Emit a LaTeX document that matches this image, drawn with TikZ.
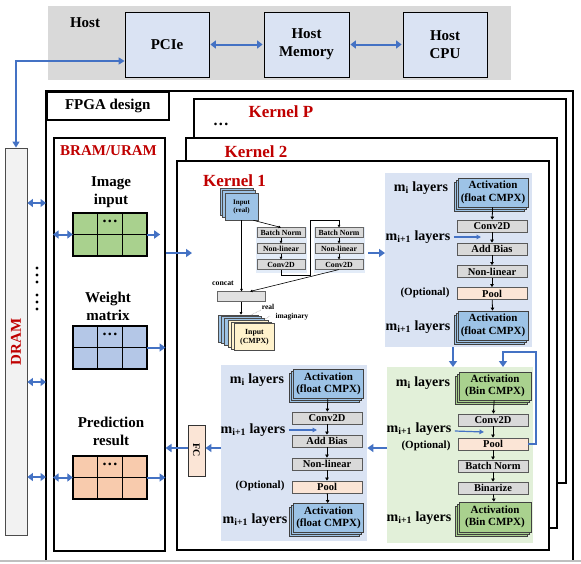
\documentclass[tikz,border=0pt]{standalone}
\usepackage{fontspec}
\setmainfont{Liberation Serif}
\usetikzlibrary{arrows.meta,shadows,calc}
\definecolor{hostgray}{HTML}{D9D9D9}
\definecolor{lblue}{HTML}{DAE3F3}
\definecolor{subbg}{HTML}{E3ECF8}
\definecolor{ablue}{HTML}{4472C4}
\definecolor{kred}{HTML}{C00000}
\definecolor{actblue}{HTML}{9DC3E6}
\definecolor{actgreen}{HTML}{A9D18E}
\definecolor{bggreen}{HTML}{E2F0D9}
\definecolor{pinkop}{HTML}{FBE5D6}
\definecolor{opgray}{HTML}{D9D9D9}
\definecolor{gridgreen}{HTML}{A9D18E}
\definecolor{gridblue}{HTML}{B4C7E7}
\definecolor{gridorange}{HTML}{F8CBAD}
\definecolor{dramgray}{HTML}{F2F2F2}
\definecolor{cmpxyellow}{HTML}{FFF2CC}
\newcommand{\bramgrid}[3]{%
 \node[gridbox, fill=#3] (#1) at (110,#2) {};
 \draw[line width=0.9pt] ($(#1.north west)!1/3!(#1.north east)$) -- ($(#1.south west)!1/3!(#1.south east)$)
   ($(#1.north west)!2/3!(#1.north east)$) -- ($(#1.south west)!2/3!(#1.south east)$)
   (#1.west) -- (#1.east);
 \draw[line width=2pt] (#1.north west) rectangle (#1.south east);
 \node[font=\fontsize{16}{16}\selectfont\bfseries] (#1dots) at ($(#1.north)!0.5!(#1.center)+(0,-2)$) {.\kern1.5pt.\kern1.5pt.};
}
\begin{document}
\begin{tikzpicture}[x=1pt,y=-1pt,
 big/.style={font=\fontsize{15}{18}\selectfont\bfseries},
 hbox/.style={draw=black, line width=0.8pt, fill=lblue, align=center, inner sep=0, font=\fontsize{15}{18}\selectfont\bfseries},
 barr/.style={ablue, line width=2pt, -{Triangle[length=6pt,width=8pt]}},
 dbarr/.style={ablue, line width=2pt, {Triangle[length=5.5pt,width=8pt]}-{Triangle[length=5.5pt,width=8pt]}},
 tbarr/.style={ablue, line width=1.2pt, -{Triangle[length=4.5pt,width=4.5pt]}},
 kbox/.style={draw=black, line width=1.5pt, fill=white},
 ktitle/.style={text=kred, anchor=base, font=\fontsize{17}{20}\selectfont\bfseries},
 gridbox/.style={minimum width=74pt, minimum height=43pt, inner sep=0},
 op/.style={draw=black!65, line width=0.8pt, fill=opgray, minimum width=70pt, minimum height=12pt, inner sep=0, font=\fontsize{10.5}{11}\selectfont\bfseries},
 act/.style={draw=black!75, line width=0.8pt, fill=actblue, minimum width=70pt, minimum height=29pt, inner sep=0, align=center, font=\fontsize{11}{12.5}\selectfont\bfseries, double copy shadow={shadow xshift=-2pt, shadow yshift=-2pt}},
 lbl/.style={font=\fontsize{14}{16}\selectfont\bfseries},
 opt/.style={font=\fontsize{11}{12}\selectfont\bfseries},
 karr/.style={black, line width=0.8pt, -{Triangle[length=3pt,width=3.5pt]}},
 sop/.style={draw=black!60, line width=0.6pt, fill=opgray, minimum width=48pt, minimum height=9.5pt, inner sep=0, font=\fontsize{7.8}{8}\selectfont\bfseries},
 sarr/.style={black, line width=0.6pt, -{Triangle[length=2.5pt,width=2.5pt]}},
 stk/.style={draw=black!70, line width=0.6pt, minimum width=40pt, minimum height=27pt, inner sep=0, align=center, font=\fontsize{7.8}{9}\selectfont\bfseries}
]
\useasboundingbox (0,0) rectangle (581,563);
% ---------------- Host
\fill[hostgray] (48,6) rectangle (511,80);
\node[big] (hostlbl) at (85,23) {Host};
\node[hbox, minimum width=84pt, minimum height=65pt] (pcie) at (167,44.5) {PCIe};
\node[hbox, minimum width=85pt, minimum height=65pt] (hmem) at (306.5,44.5) {Host\\Memory};
\node[hbox, minimum width=84pt, minimum height=65pt] (hcpu) at (445,44.5) {Host\\CPU};
\draw[dbarr, shorten <=1pt, shorten >=1pt] (pcie) -- (hmem);
\draw[dbarr, shorten <=1pt, shorten >=1pt] (hmem) -- (hcpu);
% ---------------- DRAM
\node[draw=black!70, line width=0.8pt, fill=dramgray, minimum width=22pt, minimum height=387pt, inner sep=0] (dram) at (16,341.5) {};
\node[rotate=90, text=kred, big] (dramlbl) at (16,342) {DRAM};
\draw[ablue, line width=1.3pt, {Triangle[length=6pt,width=7pt]}-{Triangle[length=6pt,width=7pt]}] ($(pcie.west)+(0,16.5)$) -| (dram.north);
\foreach \yy [count=\k] in {268,275,282,295,302,309} \fill (37,\yy) circle (1.6pt);
% ---------------- FPGA outer
\coordinate (fpgaL) at (46,91);
\draw[line width=1.5pt] (46,562) -- (fpgaL) -- (573,91) -- (573,562);
\node[draw, line width=1.5pt, minimum width=122pt, minimum height=28pt, inner sep=0, anchor=north west, big] (fpgalbl) at (fpgaL) {FPGA design};
\draw[gray!50, line width=1.5pt] (0,561) -- (581,561);
% ---------------- Kernels
\draw[kbox] (194,99) rectangle (566,483);
\node[ktitle] (kp) at (281,117) {Kernel P};
\node[font=\fontsize{16}{16}\selectfont\bfseries] (kpdots) at (221,124) {.\kern1.5pt.\kern1.5pt.};
\draw[kbox] (186,138) rectangle (557,528);
\node[ktitle] (k2) at (256,157) {Kernel 2};
\draw[kbox] (177,161) rectangle (549,550);
\node[ktitle] (k1) at (234.5,186) {Kernel 1};
% ---------------- BRAM
\node[draw, line width=1.5pt, fill=white, minimum width=111pt, minimum height=413pt, inner sep=0, anchor=north west] (bram) at (53,137) {};
\node[text=kred, big] (bramlbl) at (108.5,151) {BRAM/URAM};
\node[big, align=center] (imglbl) at (111,192) {Image\\input};
\node[big, align=center] (wlbl) at (108,306) {Weight\\matrix};
\node[big, align=center] (plbl) at (111,431) {Prediction\\result};
\bramgrid{imggrid}{234.5}{gridgreen}
\bramgrid{wgrid}{347.5}{gridblue}
\bramgrid{pgrid}{477.5}{gridorange}
\draw[dbarr] (bram.west |- imggrid.west) -- (imggrid.west);
\draw[barr] (imggrid.east) -- ++(13,0);
\draw[barr] (wgrid.east) -- (bram.east |- wgrid.east);
\draw[dbarr] (bram.west |- pgrid.west) -- (pgrid.west);
\draw[barr] (pgrid.east) -- (bram.east |- pgrid.east);
\coordinate (d1) at (0,203);
\coordinate (d2) at (0,382);
\coordinate (d3) at (0,477);
\draw[dbarr] (dram.east |- d1) -- (fpgaL |- d1);
\draw[dbarr] (dram.east |- d2) -- (fpgaL |- d2);
\draw[dbarr] (dram.east |- d3) -- (fpgaL |- d3);
\coordinate (k1in) at (192,253);
\draw[barr] (bram.east |- k1in) -- (k1in);
% ---------------- Kernel 1 sub-diagram
\node[stk, fill=actblue, minimum width=33pt, double copy shadow={shadow xshift=-2.5pt, shadow yshift=2.5pt}, font=\fontsize{7}{8}\selectfont\bfseries] (inreal) at (241.5,206.5) {Input\\(real)};
\node[fill=subbg, minimum width=51pt, minimum height=46pt, inner sep=0] (b1bg) at (281.5,249.5) {};
\node[fill=subbg, minimum width=51pt, minimum height=46pt, inner sep=0] (b2bg) at (339.5,249.5) {};
\node[sop] (bn1) at (281,232.5) {Batch Norm};
\node[sop] (nl1s) at (281,248.5) {Non-linear};
\node[sop] (cv1s) at (281,264.5) {Conv2D};
\node[sop] (bn2) at (339,232.5) {Batch Norm};
\node[sop] (nl2s) at (339,248.5) {Non-linear};
\node[sop] (cv2s) at (339,264.5) {Conv2D};
\draw[sarr] (bn1) -- (nl1s);
\draw[sarr] (nl1s) -- (cv1s);
\draw[sarr] (bn2) -- (nl2s);
\draw[sarr] (nl2s) -- (cv2s);
\draw[sarr] ($(inreal.south east)+(-5,0)$) -- (bn1.north);
\coordinate (lk1) at (310,275);
\coordinate (lk2) at (310,220);
\draw[sarr] (cv1s.south) |- (lk1) -- (lk2) -| (bn2.north);
\node[font=\fontsize{7.8}{8}\selectfont\bfseries] (concatlbl) at (223,283) {concat};
\node[sop, fill=opgray!80] (concat) at (241,296.5) {};
\draw[sarr] (inreal.south) -- (inreal.south |- concat.north);
\draw[sarr] (cv2s.south) -- ($(concat.north)+(9,0)$);
\foreach \i in {0,1,2} \node[stk, fill=actblue] (cmpx\i) at (238+3.3*\i,328.5+1.7*\i) {};
\foreach \i in {3,4} \node[stk, fill=cmpxyellow] (cmpx\i) at (238+3.3*\i,328.5+1.7*\i) {};
\node[stk, fill=cmpxyellow] (incmpx) at (254.5,337) {Input\\(CMPX)};
\draw[sarr] (concat.south) -- (concat.south |- cmpx0.north);
\node[font=\fontsize{7.5}{7.5}\selectfont\bfseries] (reallbl) at (268,307) {real};
\node[font=\fontsize{7.5}{7.5}\selectfont\bfseries] (imaglbl) at (292,317) {imaginary};
\draw[gray, densely dotted, line width=0.5pt] (251,315) -- (261,310);
\draw[gray, densely dotted, line width=0.5pt] (262,321) -- (270,316);
% ---------------- top-right block (float)
\node[fill=lblue, minimum width=147pt, minimum height=174pt, inner sep=0, anchor=north west] (trbg) at (385,173) {};
\node[act] (ta1) at (493,192.5) {Activation\\(float CMPX)};
\node[op] (tconv) at (492,226) {Conv2D};
\node[op] (tbias) at (492,249) {Add Bias};
\node[op] (tnl) at (492,271.5) {Non-linear};
\node[op, fill=pinkop] (tpool) at (492,293.5) {Pool};
\node[act] (ta2) at (493,325.5) {Activation\\(float CMPX)};
\draw[karr] (ta1) -- (tconv);
\draw[karr] (tconv) -- (tbias);
\draw[karr] (tbias) -- (tnl);
\draw[karr] (tnl) -- (tpool);
\draw[karr] (tpool) -- (ta2);
\node[lbl] (tm1) at (421,188) {m\textsubscript{i} layers};
\node[lbl] (tm2) at (418,237) {m\textsubscript{i+1} layers};
\node[opt] (topt) at (425,293) {(Optional)};
\node[lbl] (tm3) at (418,327) {m\textsubscript{i+1} layers};
\coordinate (tpt) at (481,237);
\draw[tbarr] (tm2.east) -- (tpt);
\coordinate (c3) at (368,253);
\draw[barr] (c3) -- (trbg.west |- c3);
% ---------------- green block (binary)
\node[fill=bggreen, minimum width=146pt, minimum height=176pt, inner sep=0, anchor=north west] (grbg) at (387,367) {};
\node[act, fill=actgreen, minimum width=72pt, minimum height=28pt] (ga1) at (495,386) {Activation\\(Bin CMPX)};
\node[op] (gconv) at (493,420) {Conv2D};
\node[op, fill=pinkop] (gpool) at (493,444) {Pool};
\node[op] (gbn) at (493,466) {Batch Norm};
\node[op] (gbin) at (493,488) {Binarize};
\node[act, fill=actgreen, minimum width=72pt, minimum height=30pt] (ga2) at (495,517) {Activation\\(Bin CMPX)};
\draw[karr] (ga1) -- (gconv);
\draw[karr] (gconv) -- (gpool);
\draw[karr] (gpool) -- (gbn);
\draw[karr] (gbn) -- (gbin);
\draw[karr] (gbin) -- (ga2);
\node[lbl] (gm1) at (423,383) {m\textsubscript{i} layers};
\node[lbl] (gm2) at (419,429) {m\textsubscript{i+1} layers};
\node[opt] (gopt) at (426,446) {(Optional)};
\node[lbl] (gm3) at (419,518) {m\textsubscript{i+1} layers};
\coordinate (gpt) at (484,432);
\draw[tbarr] ($(gm2.east)+(0,2)$) -- (gpt);
\coordinate (c1) at (453,0);
\draw[barr] (trbg.south -| c1) -- (grbg.north -| c1);
\coordinate (lp1) at (536,352);
\coordinate (lp2) at (503,352);
\draw[barr] (gpool.east) -| (lp1) -- (lp2) -- (lp2 |- grbg.north);
% ---------------- bottom-left block (float)
\node[fill=lblue, minimum width=146pt, minimum height=176pt, inner sep=0, anchor=north west] (blbg) at (221,365) {};
\node[act] (ba1) at (328.5,384) {Activation\\(float CMPX)};
\node[op] (bconv) at (327,418) {Conv2D};
\node[op] (bbias) at (327,441) {Add Bias};
\node[op] (bnl) at (327,464) {Non-linear};
\node[op, fill=pinkop] (bpool) at (327,487) {Pool};
\node[act] (ba2) at (328.5,518) {Activation\\(float CMPX)};
\draw[karr] (ba1) -- (bconv);
\draw[karr] (bconv) -- (bbias);
\draw[karr] (bbias) -- (bnl);
\draw[karr] (bnl) -- (bpool);
\draw[karr] (bpool) -- (ba2);
\node[lbl] (bm1) at (257,380) {m\textsubscript{i} layers};
\node[lbl] (bm2) at (253,430) {m\textsubscript{i+1} layers};
\node[opt] (bopt) at (260,486) {(Optional)};
\node[lbl] (bm3) at (255,520) {m\textsubscript{i+1} layers};
\coordinate (bpt) at (317,430);
\draw[tbarr] (bm2.east) -- (bpt);
\coordinate (c2) at (0,448);
\draw[barr] (grbg.west |- c2) -- (blbg.east |- c2);
% ---------------- FC
\node[draw=black!80, line width=0.9pt, fill=pinkop, minimum width=17pt, minimum height=51pt, inner sep=0] (fc) at (196.5,450.5) {};
\node[rotate=-90, font=\fontsize{10}{10}\selectfont\bfseries] (fclbl) at (fc) {FC};
\draw[barr] (blbg.west |- c2) -- (fc.east |- c2);
\draw[barr] (fc.west |- c2) -- (bram.east |- c2);
\end{tikzpicture}
\end{document}
